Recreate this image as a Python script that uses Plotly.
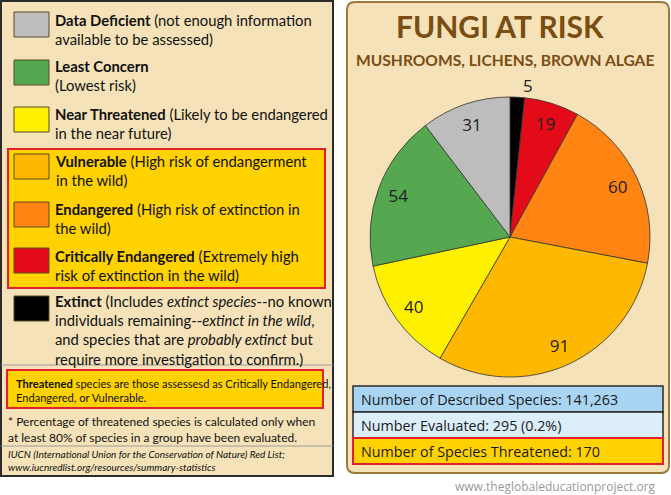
import plotly.graph_objects as go

W, H = 671, 495

# ---- data ----
categories = ["Extinct", "Critically Endangered", "Endangered", "Vulnerable",
              "Near Threatened", "Least Concern", "Data Deficient"]
values = [5, 19, 60, 91, 40, 54, 31]
colors = ["#000000", "#E30B17", "#FF8412", "#FFB800", "#FFF000", "#55A84F", "#BDBDBD"]
label_pos = ["outside", "inside", "inside", "inside", "inside", "inside", "inside"]

legend_order = ["Data Deficient", "Least Concern", "Near Threatened", "Vulnerable",
                "Endangered", "Critically Endangered", "Extinct"]
legend_lines = {
    "Data Deficient": ["<b>Data Deficient</b> (not enough information", "available to be assessed)"],
    "Least Concern": ["<b>Least Concern</b>", "(Lowest risk)"],
    "Near Threatened": ["<b>Near Threatened</b> (Likely to be endangered", "in the near future)"],
    "Vulnerable": ["<b>Vulnerable</b> (High risk of endangerment", "in the wild)"],
    "Endangered": ["<b>Endangered</b> (High risk of extinction in", "the wild)"],
    "Critically Endangered": ["<b>Critically Endangered</b> (Extremely high", "risk of extinction in the wild)"],
    "Extinct": ["<b>Extinct</b> (Includes <i>extinct species</i>--no known",
                "individuals remaining--<i>extinct in the wild</i>,",
                "and species that are <i>probably extinct</i> but",
                "require more investigation to confirm.)"],
}
title = "FUNGI AT RISK"
subtitle = "MUSHROOMS, LICHENS, BROWN ALGAE"
stats = ["Number of Described Species: 141,263",
         "Number Evaluated: 295 (0.2%)",
         "Number of Species Threatened: 170"]
stat_fills = ["#A9D5F2", "#DCEEFA", "#FFD200"]

NARROW = "Lato, sans-serif"
SANS = "Open Sans, Noto Sans, sans-serif"
BEIGE = "#F5E2B8"
BROWN = "#7A4D12"


def px(x):
    return x / W


def py(y):
    return 1 - y / H


fig = go.Figure()

shapes = []
annotations = []


def rect(x0, y0, x1, y1, fill, line, lw=1):
    shapes.append(dict(type="rect", xref="paper", yref="paper",
                       x0=px(x0), x1=px(x1), y0=py(y1), y1=py(y0),
                       fillcolor=fill, line=dict(color=line, width=lw), layer="below"))


def hline(x0, x1, y, color, lw=1):
    shapes.append(dict(type="line", xref="paper", yref="paper",
                       x0=px(x0), x1=px(x1), y0=py(y), y1=py(y),
                       line=dict(color=color, width=lw), layer="below"))


def text(x, y, s, size, family=NARROW, color="#111", xanchor="left"):
    annotations.append(dict(x=px(x), y=py(y), xref="paper", yref="paper", text=s,
                            showarrow=False, xanchor=xanchor, yanchor="middle", align="left",
                            borderpad=0, font=dict(family=family, size=size, color=color)))


# ---- left panel ----
rect(1, 1, 333, 476, BEIGE, "#2b2b2b", 2)
rect(8, 149, 325, 288, "#FFD200", "#E5202E", 2)
hline(1, 333, 365, "#9c9c9c", 1)
hline(1, 333, 446, "#9c9c9c", 1)
rect(7, 370, 323, 408, "#FFD200", "#E5202E", 2)

sq_top = {"Data Deficient": 12, "Least Concern": 60, "Near Threatened": 107,
          "Vulnerable": 154, "Endangered": 202, "Critically Endangered": 248, "Extinct": 296}
para_y = {"Data Deficient": 29.5, "Least Concern": 75.5, "Near Threatened": 123.5,
          "Vulnerable": 170.5, "Endangered": 218.5, "Critically Endangered": 265.5,
          "Extinct": 330}
for name in legend_order:
    c = colors[categories.index(name)]
    t = sq_top[name]
    rect(14, t, 49, t + 25, c, "#5a4a2a", 1)
    text(54, para_y[name], "<br>".join(legend_lines[name]), 14.8)

text(15, 390.5, "<b>Threatened</b> species are those assessesd as Critically Endangered,<br>"
     "Endangered, or Vulnerable.", 11.1)
text(7, 429, "* Percentage of threatened species is calculated only when<br>"
     "at least 80% of species in a group have been evaluated.", 12)
text(7, 460, "<i>IUCN (International Union for the Conservation of Nature) Red List;<br>"
     "www.iucnredlist.org/resources/summary-statistics</i>", 10)

# ---- right panel (rounded) ----
x0, y0, x1, y1, r = 347, 2, 669, 473, 8
path = (f"M {px(x0 + r)},{py(y0)} L {px(x1 - r)},{py(y0)} Q {px(x1)},{py(y0)} {px(x1)},{py(y0 + r)} "
        f"L {px(x1)},{py(y1 - r)} Q {px(x1)},{py(y1)} {px(x1 - r)},{py(y1)} "
        f"L {px(x0 + r)},{py(y1)} Q {px(x0)},{py(y1)} {px(x0)},{py(y1 - r)} "
        f"L {px(x0)},{py(y0 + r)} Q {px(x0)},{py(y0)} {px(x0 + r)},{py(y0)} Z")
shapes.append(dict(type="path", xref="paper", yref="paper", path=path,
                   fillcolor=BEIGE, line=dict(color="#9C7A3C", width=2), layer="below"))

text(500, 26, f"<b>{title}</b>", 30, NARROW, BROWN, "center")
text(505, 60, f"<b>{subtitle}</b>", 15.6, NARROW, BROWN, "center")

box_y = [386, 412, 438, 464]
for i, (s, f) in enumerate(zip(stats, stat_fills)):
    lc = "#E5202E" if i == 2 else "#2b2b2b"
    lw = 2 if i == 2 else 1.5
    rect(353, box_y[i], 663, box_y[i + 1], f, lc, lw)
    text(360, (box_y[i] + box_y[i + 1]) / 2 + 0.5, s, 14.3, SANS, "#1a1a1a")

text(657, 486, "www.theglobaleducationproject.org", 12, SANS, "#9a9a9a", "right")

# ---- pie ----
dom = dict(x=[px(370), px(650)], y=[py(377), py(97)])
fig.add_trace(go.Pie(labels=categories, values=values, sort=False, direction="clockwise",
                     marker=dict(colors=colors, line=dict(color="#333333", width=0.8)),
                     textinfo="none", hoverinfo="label+value", domain=dom, showlegend=False))
fig.add_trace(go.Pie(labels=categories, values=values, sort=False, direction="clockwise",
                     hole=0.7, marker=dict(colors=["rgba(0,0,0,0)"] * len(values),
                                           line=dict(width=0)),
                     textinfo="value", textposition=label_pos, insidetextorientation="horizontal",
                     textfont=dict(family=SANS, size=17, color="#222222"),
                     hoverinfo="skip", domain=dom, showlegend=False))

fig.update_layout(width=W, height=H, margin=dict(l=0, r=0, t=0, b=0),
                  paper_bgcolor="white", plot_bgcolor="white",
                  shapes=shapes, annotations=annotations, showlegend=False)
fig.write_html("out.html")
